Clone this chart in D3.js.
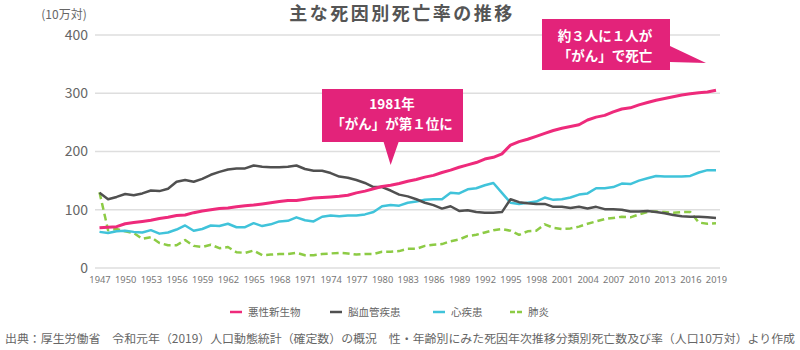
<!DOCTYPE html>
<html>
<head>
<meta charset="utf-8">
<script src="https://cdnjs.cloudflare.com/ajax/libs/d3/7.8.5/d3.min.js"></script>
<style>
    body { margin: 0; background: #fff; }
    #chart { width: 800px; height: 350px; }
    text { font-family: "Noto Sans CJK JP", "Noto Sans", sans-serif; }
</style>
</head>
<body>
<div id="chart"></div>
<script>

// years 1947 - 2019
var years = d3.range(1947, 2020);
var tickYears = d3.range(1947, 2020, 3);
var yTicks = [0, 100, 200, 300, 400];

var seriesNames = ["悪性新生物", "脳血管疾患", "心疾患", "肺炎"];
var seriesColors = ["#ee2a7b", "#505050", "#40c3da", "#8dcb45"];

// 10万対 rates
var cancer = [69, 70, 71, 76, 78, 80, 82, 85, 87, 90, 91, 95, 98, 100, 102, 103, 105, 107, 108, 110,
    112, 114, 116, 116, 118, 120, 121, 122, 123, 125, 129, 132, 136, 140, 142, 145, 149, 152, 156, 159,
    164, 168, 173, 177, 181, 187, 190, 196, 211, 217, 221, 226, 231, 236, 240, 243, 246, 254, 259, 262,
    268, 273, 275, 280, 284, 288, 291, 294, 297, 299, 301, 302, 305];
var stroke = [129, 118, 122, 127, 125, 128, 133, 132, 136, 148, 151, 148, 153, 160, 165, 169, 171, 171, 176, 174,
    173, 173, 174, 176, 170, 167, 167, 163, 157, 155, 151, 146, 139, 139, 133, 126, 123, 118, 112, 108,
    102, 106, 98, 99, 96, 95, 95, 96, 118, 113, 111, 110, 110, 105, 105, 103, 105, 102, 105, 101,
    101, 100, 97, 97, 98, 96, 94, 91, 89, 88, 88, 87, 86];
var heart = [62, 60, 63, 64, 62, 61, 65, 59, 61, 66, 73, 64, 67, 73, 72, 76, 70, 70, 77, 72,
    75, 80, 81, 87, 82, 80, 88, 90, 89, 90, 90, 92, 96, 106, 108, 107, 112, 114, 117, 118,
    118, 129, 128, 135, 137, 142, 146, 129, 112, 110, 112, 114, 121, 117, 118, 121, 126, 128, 137, 137,
    139, 145, 144, 150, 154, 158, 157, 157, 157, 158, 164, 168, 168];
var pneumonia = [130, 65, 67, 63, 60, 50, 53, 43, 39, 39, 48, 38, 36, 40, 34, 36, 27, 26, 30, 22,
    23, 24, 24, 26, 22, 22, 24, 25, 26, 25, 23, 24, 24, 28, 28, 29, 33, 33, 38, 40,
    41, 46, 49, 55, 57, 61, 65, 67, 64, 57, 63, 64, 75, 69, 67, 68, 71, 76, 80, 84,
    86, 88, 87, 92, 96, 97, 96, 95, 96, 96, 78, 76, 77];

var seriesValues = [cancer, stroke, heart, pneumonia];

var width = 800, height = 350;

var svg = d3.select("#chart")
    .append("svg")
    .attr("width", width)
    .attr("height", height);

var xScale = d3.scaleLinear()
    .domain([1947, 2019])
    .range([99.5, 716]);

var yScale = d3.scaleLinear()
    .domain([0, 400])
    .range([268, 35]);

// grid lines + y labels
svg.append("g")
    .selectAll("line")
    .data(yTicks)
    .enter().append("line")
    .attr("x1", 95)
    .attr("x2", 720)
    .attr("y1", function(d) { return yScale(d); })
    .attr("y2", function(d) { return yScale(d); })
    .attr("stroke", "#dedede")
    .attr("stroke-width", 1.5);

svg.append("g")
    .selectAll("text")
    .data(yTicks)
    .enter().append("text")
    .attr("x", 88)
    .attr("y", function(d) { return yScale(d); })
    .attr("dy", "0.35em")
    .attr("text-anchor", "end")
    .style("font-size", "14px")
    .style("fill", "#666")
    .text(function(d) { return d; });

svg.append("text")
    .attr("x", 64)
    .attr("y", 15)
    .attr("dy", "0.35em")
    .attr("text-anchor", "middle")
    .style("font-size", "12px")
    .style("fill", "#666")
    .text("(10万対)");

// x axis labels
var xAxis = d3.axisBottom(xScale)
    .tickValues(tickYears)
    .tickFormat(d3.format("d"))
    .tickSize(0)
    .tickPadding(0);

var xg = svg.append("g")
    .attr("transform", "translate(0,276)")
    .call(xAxis);
xg.select(".domain").remove();
xg.selectAll("text")
    .attr("dy", "0.7em")
    .style("font-family", "\"Noto Sans\", sans-serif")
    .style("font-size", "9.3px")
    .style("fill", "#777");

// title
svg.append("text")
    .attr("x", 402)
    .attr("y", 14)
    .attr("dy", "0.35em")
    .attr("text-anchor", "middle")
    .style("font-size", "18px")
    .style("font-weight", "bold")
    .style("letter-spacing", "2.5px")
    .style("fill", "#555")
    .text("主な死因別死亡率の推移");

// lines
var line = d3.line()
    .x(function(d, i) { return xScale(years[i]); })
    .y(function(d) { return yScale(d); });

var drawOrder = [3, 2, 1, 0];
drawOrder.forEach(function(k) {
    svg.append("path")
        .datum(seriesValues[k])
        .attr("fill", "none")
        .attr("stroke", seriesColors[k])
        .attr("stroke-width", k === 0 ? 3 : 2.5)
        .attr("stroke-linejoin", "round")
        .attr("stroke-dasharray", k === 3 ? "7,4" : null)
        .attr("d", line);
});

// callouts
var calloutColor = "#e3237a";

function callout(points, lines, cx, cy, lh) {
    svg.append("path")
        .attr("d", d3.line()(points) + "Z")
        .attr("fill", calloutColor);
    lines.forEach(function(t, i) {
        svg.append("text")
            .attr("x", cx)
            .attr("y", cy + i * lh)
            .attr("dy", "0.35em")
            .attr("text-anchor", "middle")
            .style("font-size", "13.5px")
            .style("font-weight", "bold")
            .style("fill", "#fff")
            .text(t);
    });
}

var tip1 = [xScale(1981), 165];
callout([[322, 89], [463, 89], [463, 142], [tip1[0] + 8, 142], tip1, [tip1[0] - 7, 142], [322, 142]],
    ["1981年", "「がん」が第１位に"], 392, 104, 20);

callout([[542, 19], [670, 19], [670, 46], [706, 63], [670, 62], [670, 70], [542, 70]],
    ["約３人に１人が", "「がん」で死亡"], 605, 36, 20);

// legend
var legendX = [230, 330, 433, 510];
var legend = svg.append("g");
seriesNames.forEach(function(name, k) {
    legend.append("line")
        .attr("x1", legendX[k])
        .attr("x2", legendX[k] + 12)
        .attr("y1", 312)
        .attr("y2", 312)
        .attr("stroke", seriesColors[k])
        .attr("stroke-width", 2.5)
        .attr("stroke-dasharray", k === 3 ? "5,2" : null);
    legend.append("text")
        .attr("x", legendX[k] + 18)
        .attr("y", 312)
        .attr("dy", "0.35em")
        .style("font-size", "10.5px")
        .style("fill", "#666")
        .text(name);
});

// source
svg.append("text")
    .attr("x", 5)
    .attr("y", 339)
    .attr("dy", "0.35em")
    .attr("textLength", 790)
    .attr("lengthAdjust", "spacingAndGlyphs")
    .style("font-size", "11.8px")
    .style("fill", "#666")
    .text("出典：厚生労働省　令和元年（2019）人口動態統計（確定数）の概況　性・年齢別にみた死因年次推移分類別死亡数及び率（人口10万対）より作成");

</script>
</body>
</html>
